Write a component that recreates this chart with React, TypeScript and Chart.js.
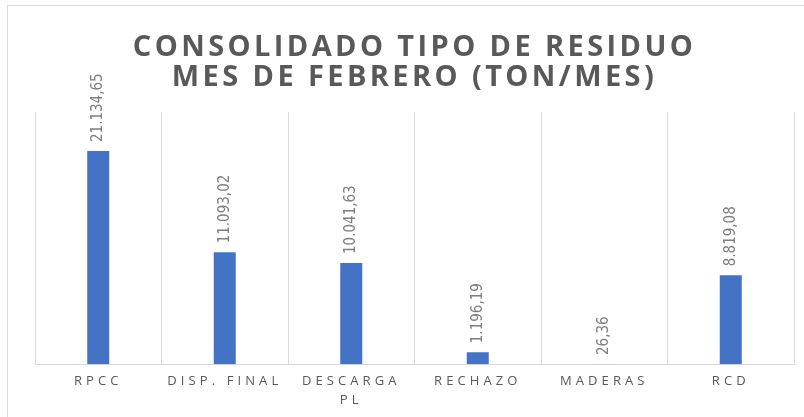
import React, { useEffect, useRef } from "react";
import { Chart, registerables } from "chart.js";

Chart.register(...registerables);

const titleLines = ["CONSOLIDADO TIPO DE RESIDUO", "MES DE FEBRERO (TON/MES)"];
const categories: (string | string[])[] = ["RPCC", "DISP. FINAL", ["DESCARGA", "PL"], "RECHAZO", "MADERAS", "RCD"];
const values = [21134.65, 11093.02, 10041.63, 1196.19, 26.36, 8819.08];
const yMax = 25000;

function formatEs(v: number): string {
  const [intPart, dec] = v.toFixed(2).split(".");
  const grouped = intPart.replace(/\B(?=(\d{3})+(?!\d))/g, ".");
  return grouped + "," + dec;
}

const spacingPlugin = {
  id: "spacing",
  beforeDraw(chart: any) {
    (chart.ctx as any).letterSpacing = "3.4px";
  },
  beforeDatasetsDraw(chart: any) {
    (chart.ctx as any).letterSpacing = "0px";
  },
  afterDatasetsDraw(chart: any) {
    const ctx = chart.ctx;
    const meta = chart.getDatasetMeta(0);
    ctx.save();
    (ctx as any).letterSpacing = "0px";
    ctx.fillStyle = "#7f7f7f";
    ctx.font = "15px 'Liberation Sans Narrow', 'DejaVu Sans Condensed', sans-serif";
    ctx.textAlign = "left";
    ctx.textBaseline = "middle";
    meta.data.forEach((bar: any, i: number) => {
      ctx.save();
      ctx.translate(bar.x, bar.y - 9);
      ctx.rotate(-Math.PI / 2);
      ctx.fillText(formatEs(values[i]), 0, 0);
      ctx.restore();
    });
    ctx.restore();
    (ctx as any).letterSpacing = "4.1px";
  },
  afterDraw(chart: any) {
    (chart.ctx as any).letterSpacing = "0px";
  },
};

export default function App() {
  const ref = useRef<HTMLCanvasElement>(null);
  useEffect(() => {
    if (!ref.current) return;
    const chart = new Chart(ref.current, {
      type: "bar",
      data: {
        labels: categories,
        datasets: [
          {
            data: values,
            backgroundColor: "#4472C4",
            borderWidth: 0,
            barPercentage: 0.174,
            categoryPercentage: 1,
          },
        ],
      },
      options: {
        responsive: false,
        animation: false,
        layout: { padding: { left: 35, right: 10, top: 0, bottom: 0 } },
        plugins: {
          legend: { display: false },
          tooltip: { enabled: false },
          title: {
            display: true,
            text: titleLines,
            color: "#595959",
            font: { family: "'Open Sans', sans-serif", weight: "bold", size: 29, lineHeight: 30 / 29 },
            padding: { top: 33, bottom: 19 },
          },
        },
        scales: {
          x: {
            grid: { display: true, offset: true, color: "#d9d9d9", drawTicks: false, lineWidth: 1 },
            border: { display: true, color: "#d9d9d9", width: 1 },
            ticks: {
              z: 1,
              color: "#595959",
              font: { family: "'Open Sans', sans-serif", size: 13, lineHeight: 1.45 },
              padding: 7.5,
              maxRotation: 0,
              autoSkip: false,
            },
          },
          y: { display: false, min: 0, max: yMax },
        },
      },
      plugins: [spacingPlugin],
    });
    return () => chart.destroy();
  }, []);

  return (
    <div style={{ position: "fixed", inset: 0, overflow: "hidden", background: "#fff" }}>
      <div
        style={{
          position: "absolute",
          left: 7,
          top: 5,
          width: 900,
          height: 500,
          border: "1px solid #d9d9d9",
        }}
      />
      <canvas ref={ref} width={804} height={417} style={{ position: "absolute", left: 0, top: 0 }} />
    </div>
  );
}
